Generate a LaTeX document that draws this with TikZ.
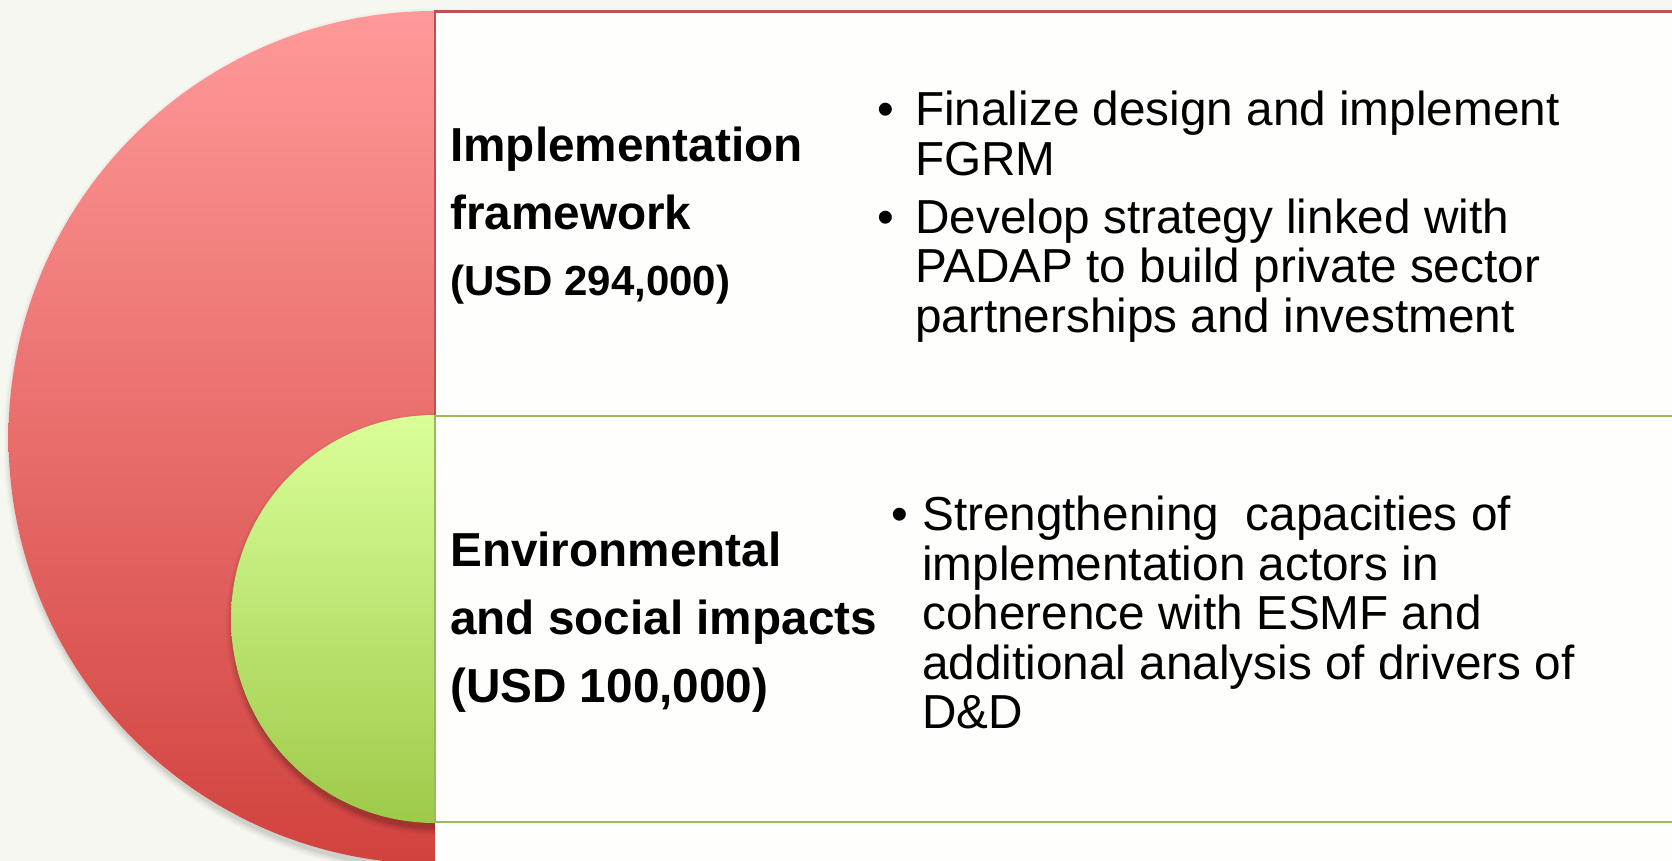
\documentclass[tikz,border=0pt]{standalone}
\usepackage{fontspec}
\setmainfont{Liberation Sans}
\definecolor{bgcream}{RGB}{246,247,240}
\definecolor{redtop}{RGB}{255,153,153}
\definecolor{redmid}{RGB}{234,122,120}
\definecolor{redbot}{RGB}{209,66,62}
\definecolor{greentop}{RGB}{218,255,153}
\definecolor{greenmid}{RGB}{190,230,118}
\definecolor{greenbot}{RGB}{158,202,74}
\definecolor{redline}{RGB}{192,80,77}
\definecolor{greenline}{RGB}{155,187,89}
\definecolor{boxwhite}{RGB}{254,254,253}
\tikzset{
  heading/.style={anchor=base west, inner sep=0pt, align=left, font=\bfseries\fontsize{47.7}{68}\selectfont},
  amount/.style={anchor=base west, inner sep=0pt, align=left, font=\bfseries\fontsize{42}{60}\selectfont},
  bulletmark/.style={anchor=base west, inner sep=0pt, font=\fontsize{47.7}{49.5}\selectfont},
  bullettext/.style={anchor=base west, inner sep=0pt, align=left, font=\fontsize{47.7}{49.5}\selectfont},
  rule/.style={line width=2.5pt}
}
\begin{document}
\begin{tikzpicture}[x=1pt,y=1pt]
\useasboundingbox (0,0) rectangle (1672,861);
\fill[bgcream] (0,0) rectangle (1672,861);
% shadow of big circle
\foreach \d/\o in {7/0.025,5/0.035,3/0.045,1/0.06}
  \fill[black,opacity=\o] (437,419) circle[radius=426.5+\d];
\shade[top color=redtop, middle color=redmid, bottom color=redbot] (435,423.5) circle[radius=426.5];
% shadow of small circle
\foreach \d/\o in {7/0.035,5/0.05,3/0.07,1/0.09}
  \fill[black,opacity=\o] (437,237) circle[radius=204+\d];
\shade[top color=greentop, middle color=greenmid, bottom color=greenbot] (435,242) circle[radius=204];
% white panel
\fill[boxwhite] (435,0) rectangle (1672,849.5);
% rules
\coordinate (tl) at (435,849.5);
\coordinate (tr) at (1672,849.5);
\coordinate (ml) at (435,445);
\coordinate (mr) at (1672,445);
\coordinate (bl) at (435,39);
\coordinate (br) at (1672,39);
\draw[rule, redline] (tr) -- (tl) -- (ml);
\draw[rule, greenline] (mr) -- (ml) -- (bl) -- (br);
% texts (base anchor = baseline of last line)
\node[heading] (h1) at (450,631) {Implementation\\framework};
\node[amount] (a1) at (450,565) {(USD 294,000)};
\node[heading] (h2) at (450,158) {Environmental\\and social impacts\\(USD 100,000)};
\node[bulletmark] (b1) at (877,735) {•};
\node[bullettext] (t1) at (915,685.5) {Finalize design and implement\\FGRM};
\node[bulletmark] (b2) at (877,627.5) {•};
\node[bullettext] (t2) at (915,528.5) {Develop strategy linked with\\PADAP to build private sector\\partnerships and investment};
\node[bulletmark] (b3) at (891,330) {•};
\node[bullettext] (t3) at (922,132) {Strengthening\ \ capacities of\\implementation actors in\\coherence with ESMF and\\additional analysis of drivers of\\D\&D};
\end{tikzpicture}
\end{document}
